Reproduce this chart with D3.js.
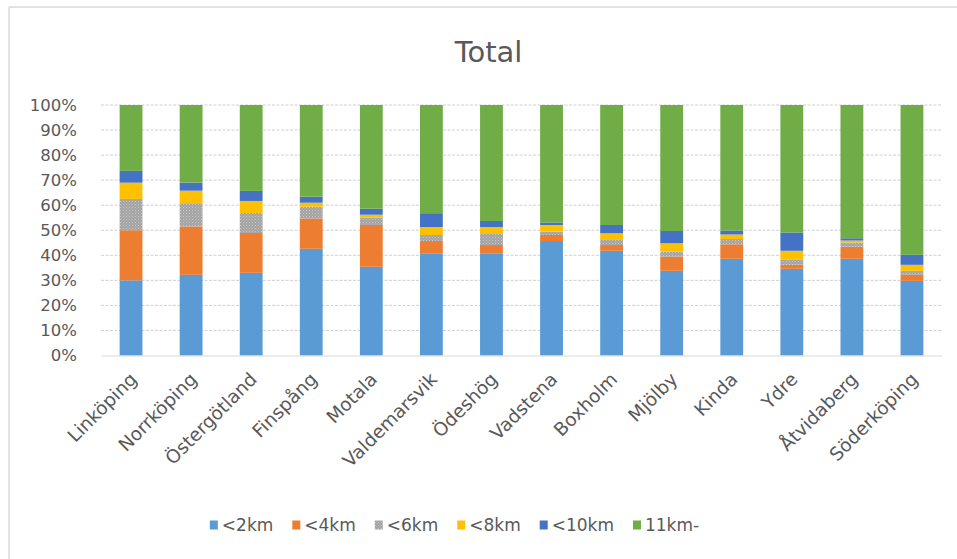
<!DOCTYPE html>
<html>
<head>
<meta charset="utf-8">
<script src="https://cdn.jsdelivr.net/npm/d3@7"></script>
<style>
  html, body { margin: 0; padding: 0; background: #fff; }
  svg { display: block; }
</style>
</head>
<body>
<svg id="chart" width="957" height="559"></svg>
<script>
const categories = ["Linköping","Norrköping","Östergötland","Finspång","Motala","Valdemarsvik","Ödeshög","Vadstena","Boxholm","Mjölby","Kinda","Ydre","Åtvidaberg","Söderköping"];
const seriesNames = ["<2km","<4km","<6km","<8km","<10km","11km-"];
const lt2km  = [30.0, 32.2, 33.0, 42.6, 35.4, 40.8, 40.8, 45.7, 41.8, 33.8, 38.6, 34.6, 38.6, 29.8];
const lt4km  = [20.0, 19.3, 15.9, 12.1, 16.7,  4.9,  3.3,  2.4,  2.3,  5.7,  5.8,  1.6,  4.8,  2.4];
const lt6km  = [12.5,  9.3,  8.0,  4.7,  3.0,  2.4,  4.7,  1.4,  2.3,  2.0,  2.1,  2.2,  1.7,  1.6];
const lt8km  = [ 6.5,  5.0,  4.8,  1.6,  1.1,  3.2,  2.5,  2.6,  2.4,  3.3,  1.8,  3.4,  0.8,  2.4];
const lt10km = [ 4.7,  3.2,  4.0,  2.4,  2.4,  5.5,  2.4,  1.0,  3.3,  4.9,  1.6,  7.3,  0.9,  4.0];
const km11   = [26.3, 31.0, 34.3, 36.6, 41.4, 43.2, 46.3, 46.9, 47.9, 50.3, 50.1, 50.9, 53.2, 59.8];
const yTicks = [0,10,20,30,40,50,60,70,80,90,100];
const chartTitle = "Total";

const seriesValues = [lt2km, lt4km, lt6km, lt8km, lt10km, km11];
const colors = ["#5B9BD5","#ED7D31","url(#grayDots)","#FFC000","#4472C4","#70AD47"];

const rows = categories.map((c, i) => {
  const r = { cat: c };
  seriesNames.forEach((s, j) => r[s] = seriesValues[j][i]);
  return r;
});

const svg = d3.select("#chart");
const FONT = "'DejaVu Sans', sans-serif";
const TXT = "#595959";

const defs = svg.append("defs");
const pat = defs.append("pattern").attr("id", "grayDots")
  .attr("patternUnits", "userSpaceOnUse").attr("width", 3).attr("height", 3);
pat.append("rect").attr("width", 3).attr("height", 3).attr("fill", "#A3A3A3");
pat.append("rect").attr("x", 0).attr("y", 0).attr("width", 1).attr("height", 1).attr("fill", "#C8C8C8");
pat.append("rect").attr("x", 1.5).attr("y", 1.5).attr("width", 1).attr("height", 1).attr("fill", "#C0C0C0");

svg.append("line").attr("x1", 9).attr("x2", 957).attr("y1", 7).attr("y2", 7)
  .attr("stroke", "#E2E2E2").attr("stroke-width", 2);
svg.append("line").attr("x1", 9).attr("x2", 9).attr("y1", 7).attr("y2", 559)
  .attr("stroke", "#E2E2E2").attr("stroke-width", 2);

const plotL = 101, plotR = 942, plotT = 105, plotB = 355.5;

const x = d3.scaleBand().domain(categories).range([plotL, plotR])
  .paddingInner(0.62).paddingOuter(0.31);
const y = d3.scaleLinear().domain([0, 100]).range([plotB, plotT]);

svg.append("g").selectAll("line").data(yTicks.filter(t => t > 0)).join("line")
  .attr("x1", plotL).attr("x2", plotR)
  .attr("y1", d => y(d)).attr("y2", d => y(d))
  .attr("stroke", "#D0D0D0").attr("stroke-width", 1)
  .attr("stroke-dasharray", "3,1.5");

const stacked = d3.stack().keys(seriesNames)(rows);
svg.append("g").selectAll("g").data(stacked).join("g")
  .attr("fill", (d, i) => colors[i])
  .selectAll("rect").data(d => d).join("rect")
  .attr("x", d => x(d.data.cat))
  .attr("width", x.bandwidth())
  .attr("y", d => y(d[1]))
  .attr("height", d => y(d[0]) - y(d[1]));

const yAxis = svg.append("g").attr("transform", `translate(${plotL},0)`)
  .call(d3.axisLeft(y).tickValues(yTicks).tickFormat(d => d + "%").tickSize(0).tickPadding(24));
yAxis.select(".domain").remove();
yAxis.selectAll("text").attr("fill", TXT).style("font-family", FONT).style("font-size", "16.5px");

const xAxis = svg.append("g").attr("transform", `translate(0,${plotB})`)
  .call(d3.axisBottom(x).tickSize(0).tickSizeOuter(0));
xAxis.select(".domain").attr("stroke", "#D9D9D9").attr("stroke-width", 1.2);
xAxis.selectAll("text")
  .attr("fill", TXT).style("font-family", FONT).style("font-size", "18.5px")
  .attr("x", 0).attr("y", 0).attr("dy", 0)
  .attr("text-anchor", "end")
  .attr("transform", "translate(7,25) rotate(-45)");

svg.append("text").attr("x", 488.5).attr("y", 61.5)
  .attr("text-anchor", "middle").attr("fill", TXT)
  .style("font-family", FONT).style("font-size", "29px")
  .text(chartTitle);

const legend = svg.append("g");
const items = legend.selectAll("g").data(seriesNames).join("g");
items.append("rect").attr("width", 8).attr("height", 9).attr("y", -4.5)
  .attr("fill", (d, i) => colors[i]);
items.append("text").attr("x", 12).attr("y", 6)
  .attr("fill", TXT).style("font-family", FONT).style("font-size", "17px")
  .text(d => d);
let pos = 0;
const gap = 19;
const offsets = [];
items.each(function () {
  offsets.push(pos);
  pos += this.getBBox().width + gap;
});
const total = pos - gap;
const startX = 454.5 - total / 2;
items.attr("transform", (d, i) => `translate(${startX + offsets[i]},525)`);
</script>
</body>
</html>
